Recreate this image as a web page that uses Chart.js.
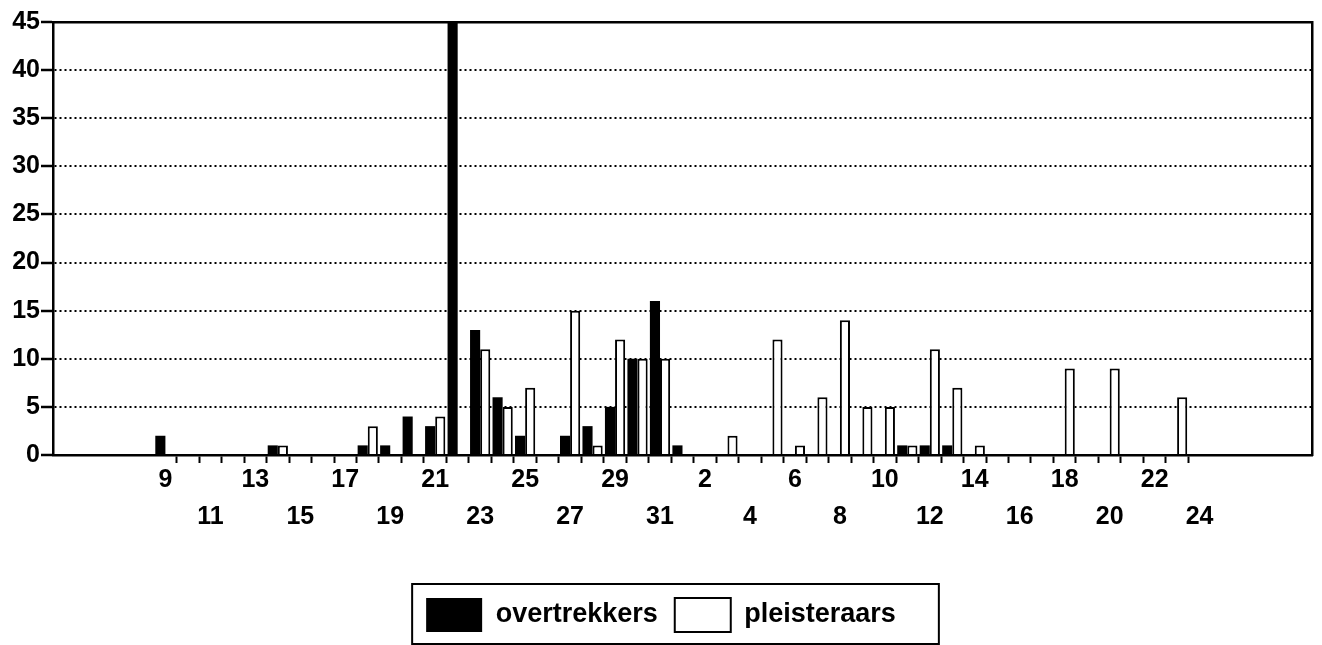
<!DOCTYPE html>
<html>
<head>
<meta charset="utf-8">
<script src="https://cdn.jsdelivr.net/npm/chart.js@4.4.1/dist/chart.umd.min.js"></script>
<style>
html,body{margin:0;padding:0;background:#fff;}
#wrap{width:1322px;height:645px;position:relative;}
</style>
</head>
<body>
<div id="wrap"><canvas id="c"></canvas></div>
<script>
// Categories: days (first month 9..31, second month 1..24)
const days = ['9','10','11','12','13','14','15','16','17','18','19','20','21','22','23','24','25','26','27','28','29','30','31',
              '1','2','3','4','5','6','7','8','9','10','11','12','13','14','15','16','17','18','19','20','21','22','23','24'];
const overtrekkers = [2,0,0,0,0,1,0,0,0,1,1,4,3,45,13,6,2,0,2,3,5,10,16,
                      1,0,0,0,0,0,0,0,0,0,1,1,1,0,0,0,0,0,0,0,0,0,0,0];
const pleisteraars = [0,0,0,0,0,1,0,0,0,3,0,0,4,0,11,5,7,0,15,1,12,10,10,
                      0,0,2,0,12,1,6,14,5,5,1,11,7,1,0,0,0,9,0,9,0,0,6,0];
const seriesNames = ['overtrekkers','pleisteraars'];
const yTicks = [0,5,10,15,20,25,30,35,40,45];
const PAD_BEFORE = 5, PAD_AFTER = 5;

// Build two-row tick labels (every other day, alternating rows)
const tickLabels = [];
for (let p = 0; p < PAD_BEFORE; p++) tickLabels.push(['', '']);
days.forEach((d, i) => {
  if (i % 2 === 0) tickLabels.push(((i / 2) % 2 === 0) ? [d, ''] : ['', d]);
  else tickLabels.push(['', '']);
});
for (let p = 0; p < PAD_AFTER; p++) tickLabels.push(['', '']);
const pad = (arr) => [...Array(PAD_BEFORE).fill(null), ...arr, ...Array(PAD_AFTER).fill(null)];

const FONT = '"Liberation Sans", Arial, Helvetica, sans-serif';
Chart.defaults.color = '#000';
Chart.defaults.font.family = FONT;

const legendFrame = {
  id: 'legendFrame',
  afterDraw(chart) {
    const lg = chart.legend;
    if (!lg || !lg.legendHitBoxes || !lg.legendHitBoxes.length) return;
    const hb = lg.legendHitBoxes;
    const last = hb[hb.length - 1];
    const l = hb[0].left - 14, r = last.left + last.width + 43;
    const t = hb[0].top - 14, b = t + 60;
    const ctx = chart.ctx;
    ctx.save();
    ctx.strokeStyle = '#000';
    ctx.lineWidth = 2;
    ctx.strokeRect(l, t, r - l, b - t);
    ctx.restore();
  }
};

const firstTick = PAD_BEFORE + 1, lastTick = PAD_BEFORE + days.length - 1;

new Chart(document.getElementById('c'), {
  type: 'bar',
  data: {
    labels: tickLabels,
    datasets: [
      { label: seriesNames[0], data: pad(overtrekkers), backgroundColor: '#000', borderColor: '#000', borderWidth: 0,
        categoryPercentage: 0.9, barPercentage: 1.0 },
      { label: seriesNames[1], data: pad(pleisteraars), backgroundColor: '#fff', borderColor: '#000', borderWidth: 2,
        categoryPercentage: 0.9, barPercentage: 1.0 }
    ]
  },
  options: {
    responsive: true,
    maintainAspectRatio: false,
    animation: false,
    layout: { padding: { left: 0, right: 0, top: 0, bottom: 3 } },
    plugins: {
      tooltip: { enabled: false },
      legend: {
        position: 'bottom',
        labels: { boxWidth: 56, boxHeight: 34, padding: 17, color: '#000',
                  font: { family: FONT, size: 27, weight: 'bold' } }
      }
    },
    scales: {
      x: {
        type: 'category',
        position: 'bottom',
        offset: false,
        grid: {
          display: true, drawOnChartArea: false, drawTicks: true, tickLength: 8, offset: true,
          tickWidth: 2,
          tickColor: (c) => (c.index >= firstTick && c.index <= lastTick) ? '#000' : 'rgba(0,0,0,0)'
        },
        border: { display: true, color: '#000', width: 2.5 },
        ticks: { autoSkip: false, maxRotation: 0, minRotation: 0, padding: -1.5, color: '#000',
                 font: { family: FONT, size: 25, weight: 'bold', lineHeight: 1.48 } },
        afterFit: (s) => { s.height = 126; }
      },
      xTop: {
        type: 'linear', position: 'top', display: true,
        grid: { display: false }, ticks: { display: false },
        border: { display: true, color: '#000', width: 2.5 },
        afterFit: (s) => { s.height = 22; }
      },
      y: {
        type: 'linear', position: 'left', min: 0, max: 45,
        afterBuildTicks: (s) => { s.ticks = yTicks.map(v => ({ value: v })); },
        grid: {
          display: true, drawOnChartArea: true, drawTicks: true, tickLength: 12,
          lineWidth: 2, tickWidth: 2.5, tickColor: '#000',
          color: (c) => (c.tick && (c.tick.value === 0 || c.tick.value === 45)) ? 'rgba(0,0,0,0)' : '#000'
        },
        border: { display: true, color: '#000', width: 2.5, dash: [2, 3] },
        ticks: { padding: 1, color: '#000', font: { family: FONT, size: 25, weight: 'bold' } },
        afterFit: (s) => { s.width = 53; }
      },
      yRight: {
        type: 'linear', position: 'right', display: true,
        grid: { display: false }, ticks: { display: false },
        border: { display: true, color: '#000', width: 2.5 },
        afterFit: (s) => { s.width = 10; }
      }
    }
  },
  plugins: [legendFrame]
});
</script>
</body>
</html>
